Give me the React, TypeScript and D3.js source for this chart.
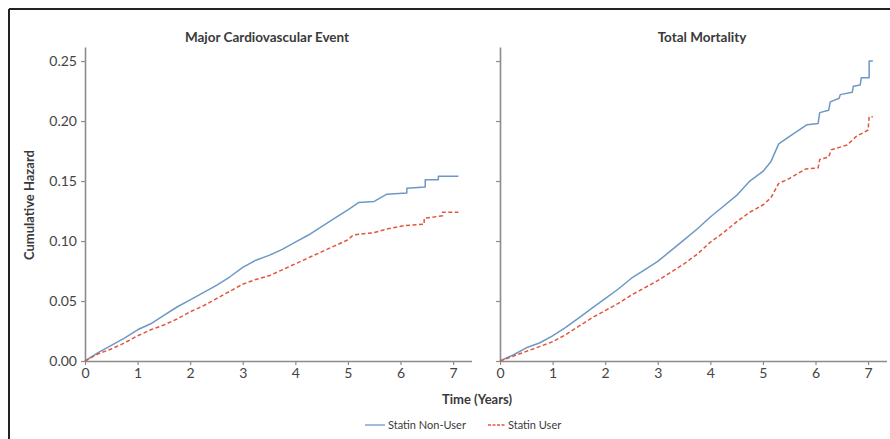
import * as d3 from "d3";
import { useEffect, useRef } from "react";

// values (years, cumulative hazard); repeated times mark the steps in the tail
const maceNonUserT = [0, 0.25, 0.5, 0.75, 1, 1.25, 1.5, 1.75, 2, 2.25, 2.5, 2.75, 3, 3.25, 3.5, 3.75, 4, 4.25, 4.5, 4.75, 5, 5.2, 5.5, 5.74, 6.12, 6.12, 6.47, 6.47, 6.72, 6.72, 7.1];
const maceNonUserV = [0, 0.007, 0.013, 0.019, 0.026, 0.031, 0.038, 0.045, 0.051, 0.057, 0.063, 0.070, 0.078, 0.084, 0.088, 0.093, 0.099, 0.105, 0.112, 0.119, 0.126, 0.132, 0.133, 0.139, 0.140, 0.144, 0.145, 0.151, 0.151, 0.154, 0.154];

const maceUserT = [0, 0.25, 0.5, 0.75, 1, 1.25, 1.5, 1.75, 2, 2.25, 2.5, 2.75, 3, 3.25, 3.5, 3.75, 4, 4.25, 4.5, 4.75, 5, 5.1, 5.5, 5.74, 6.1, 6.45, 6.45, 6.8, 6.8, 7.1];
const maceUserV = [0, 0.006, 0.010, 0.015, 0.021, 0.026, 0.030, 0.035, 0.041, 0.046, 0.052, 0.058, 0.064, 0.068, 0.071, 0.076, 0.081, 0.086, 0.091, 0.096, 0.101, 0.105, 0.107, 0.110, 0.113, 0.114, 0.119, 0.121, 0.124, 0.124];

const mortNonUserT = [0, 0.25, 0.5, 0.75, 1, 1.25, 1.5, 1.75, 2, 2.25, 2.5, 2.75, 3, 3.25, 3.5, 3.75, 4, 4.25, 4.5, 4.75, 5, 5.15, 5.3, 5.5, 5.84, 6.05, 6.08, 6.25, 6.28, 6.45, 6.47, 6.7, 6.72, 6.85, 6.87, 7.02, 7.02, 7.09];
const mortNonUserV = [0, 0.005, 0.011, 0.015, 0.021, 0.028, 0.036, 0.044, 0.052, 0.060, 0.069, 0.076, 0.083, 0.092, 0.101, 0.110, 0.120, 0.129, 0.138, 0.150, 0.158, 0.166, 0.181, 0.187, 0.197, 0.198, 0.207, 0.209, 0.216, 0.219, 0.222, 0.224, 0.229, 0.230, 0.236, 0.236, 0.250, 0.250];

const mortUserT = [0, 0.25, 0.5, 0.75, 1, 1.25, 1.5, 1.75, 2, 2.25, 2.5, 2.75, 3, 3.25, 3.5, 3.75, 4, 4.25, 4.5, 4.75, 5, 5.15, 5.3, 5.5, 5.81, 6.05, 6.08, 6.25, 6.3, 6.6, 6.65, 6.77, 7.0, 7.02, 7.09];
const mortUserV = [0, 0.004, 0.008, 0.012, 0.016, 0.022, 0.029, 0.036, 0.042, 0.048, 0.055, 0.061, 0.067, 0.074, 0.081, 0.089, 0.099, 0.107, 0.116, 0.124, 0.130, 0.136, 0.148, 0.152, 0.160, 0.161, 0.168, 0.170, 0.176, 0.180, 0.182, 0.187, 0.1925, 0.2036, 0.2036];

const panelTitles = ["Major Cardiovascular Event", "Total Mortality"];
const xTicks = [0, 1, 2, 3, 4, 5, 6, 7];
const yTicks = [0, 0.05, 0.1, 0.15, 0.2, 0.25];
const legendLabels = ["Statin Non-User", "Statin User"];

const BLUE = "#6d98c6";
const RED = "#e2553d";
const AXIS = "#8c8c8c";
const TEXT = "#3a3a3a";
const FONT = "Lato, 'Open Sans', sans-serif";

function App() {
    const svgRef = useRef<SVGSVGElement>(null);

    useEffect(() => {
        const svg = d3.select(svgRef.current);
        svg.selectAll("*").remove();

        // frame (only top and left edges show)
        svg.append("line").attr("x1", 9).attr("x2", 890).attr("y1", 9).attr("y2", 9)
            .attr("stroke", "#222").attr("stroke-width", 2);
        svg.append("line").attr("x1", 9).attr("x2", 9).attr("y1", 9).attr("y2", 439)
            .attr("stroke", "#222").attr("stroke-width", 2);

        const yScale = d3.scaleLinear().domain([0, 0.2617]).range([361, 47]);

        const panels = [
            { left: 85, title: panelTitles[0], titleX: 267, showY: true,
              series: [[maceNonUserT, maceNonUserV], [maceUserT, maceUserV]] },
            { left: 500, title: panelTitles[1], titleX: 702, showY: false,
              series: [[mortNonUserT, mortNonUserV], [mortUserT, mortUserV]] },
        ];

        panels.forEach((p) => {
            const xScale = d3.scaleLinear().domain([0, 7.35]).range([p.left, p.left + 386.5]);
            const g = svg.append("g");

            const xAxis = d3.axisBottom(xScale).tickValues(xTicks).tickFormat(d3.format("d"))
                .tickSize(4).tickSizeOuter(0).tickPadding(3);
            const gx = g.append("g").attr("transform", "translate(0,361)").call(xAxis);

            const yAxis = d3.axisLeft(yScale).tickValues(yTicks).tickFormat(d3.format(".2f"))
                .tickSize(4).tickSizeOuter(0).tickPadding(4);
            const gy = g.append("g").attr("transform", `translate(${p.left},0)`).call(yAxis);
            if (!p.showY) gy.selectAll(".tick text").remove();

            [gx, gy].forEach((a) => {
                a.select(".domain").attr("stroke", AXIS).attr("stroke-width", 1.6);
                a.selectAll(".tick line").attr("stroke", AXIS).attr("stroke-width", 1.2);
                a.selectAll(".tick text").attr("fill", "#444").style("font-family", FONT).style("font-size", "14px");
            });

            g.append("text").attr("x", p.titleX).attr("y", 42).attr("text-anchor", "middle")
                .style("font-family", FONT).style("font-size", "13.5px").style("font-weight", 700)
                .attr("fill", TEXT).text(p.title);

            p.series.forEach(([ts, vs], k) => {
                const line = d3.line<number>()
                    .x((d) => xScale(d))
                    .y((d, i) => yScale(vs[i]));
                g.append("path")
                    .datum(ts)
                    .attr("d", line)
                    .attr("fill", "none")
                    .attr("stroke", k === 0 ? BLUE : RED)
                    .attr("stroke-width", 1.5)
                    .attr("stroke-linejoin", "round")
                    .attr("stroke-dasharray", k === 0 ? null : "4,2.5");
            });
        });

        svg.append("text")
            .attr("transform", "translate(34,205) rotate(-90)")
            .attr("text-anchor", "middle")
            .style("font-family", FONT).style("font-size", "13px").style("font-weight", 700)
            .attr("fill", TEXT).text("Cumulative Hazard");

        svg.append("text").attr("x", 477).attr("y", 404).attr("text-anchor", "middle")
            .style("font-family", FONT).style("font-size", "13px").style("font-weight", 700)
            .attr("fill", TEXT).text("Time (Years)");

        const legend = [
            { x1: 365, x2: 385, tx: 388, color: BLUE, dash: null, label: legendLabels[0] },
            { x1: 488, x2: 505, tx: 508, color: RED, dash: "3,1.5", label: legendLabels[1] },
        ];
        legend.forEach((d) => {
            svg.append("line").attr("x1", d.x1).attr("x2", d.x2).attr("y1", 425).attr("y2", 425)
                .attr("stroke", d.color).attr("stroke-width", 1.3).attr("stroke-dasharray", d.dash);
            svg.append("text").attr("x", d.tx).attr("y", 429)
                .style("font-family", FONT).style("font-size", "11px")
                .attr("fill", TEXT).text(d.label);
        });
    }, []);

    return (
        <svg ref={svgRef} width={890} height={439}
            style={{ position: "absolute", left: 0, top: 0, background: "#fff" }}>
        </svg>
    );
}

export default App;
